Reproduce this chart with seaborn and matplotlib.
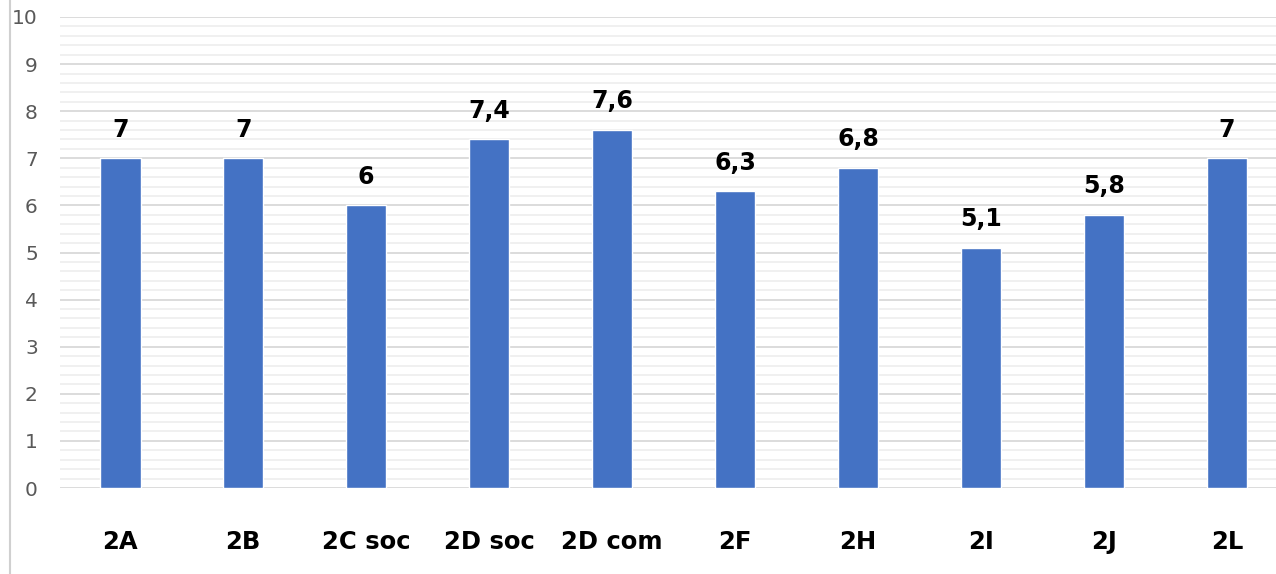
import matplotlib
matplotlib.use("Agg")
import matplotlib.pyplot as plt
import seaborn as sns
import pandas as pd
import numpy as np
from matplotlib.lines import Line2D

categories = ["2A", "2B", "2C soc", "2D soc", "2D com", "2F", "2H", "2I", "2J", "2L"]
values = [7, 7, 6, 7.4, 7.6, 6.3, 6.8, 5.1, 5.8, 7]
value_labels = ["7", "7", "6", "7,4", "7,6", "6,3", "6,8", "5,1", "5,8", "7"]

sns.set_theme(style="white")
plt.rcParams['font.family'] = ['DejaVu Sans']

W, H = 1276, 574
fig = plt.figure(figsize=(W / 100, H / 100), dpi=100)
ax = fig.add_axes([60 / W, 86 / H, (W - 60) / W, (488 - 17) / H])

df = pd.DataFrame({"cat": categories, "val": values})
sns.barplot(data=df, x="cat", y="val", color="#4472C4", saturation=1, width=0.33, ax=ax)

ax.set_ylim(0, 10)
ax.set_xlim(-0.49, 9.4)
ax.set_yticks(np.arange(0, 11, 1))
ax.set_yticks(np.arange(0, 10.01, 0.2), minor=True)
ax.grid(axis="y", which="minor", color="#ededed", linewidth=1.2, zorder=0)
ax.grid(axis="y", which="major", color="#d9d9d9", linewidth=1.3, zorder=0)
ax.set_axisbelow(True)
for s in ax.spines.values():
    s.set_visible(False)
ax.tick_params(axis="y", which="both", length=0, pad=16, labelsize=14.5, labelcolor="#595959")
ax.tick_params(axis="x", length=0, pad=30, labelsize=17.5)
for t in ax.get_xticklabels():
    t.set_fontweight("bold")
    t.set_color("black")
ax.set_xlabel("")
ax.set_ylabel("")

for i, (v, lab) in enumerate(zip(values, value_labels)):
    ax.annotate(lab, (i, v), xytext=(0, 12), textcoords="offset points",
                ha="center", va="bottom", fontsize=17, fontweight="bold", color="black")

fig.add_artist(Line2D([9.5 / W, 9.5 / W], [0, 1], color="#d0d0d0", linewidth=1.5))

fig.savefig("out.png", dpi=100)
